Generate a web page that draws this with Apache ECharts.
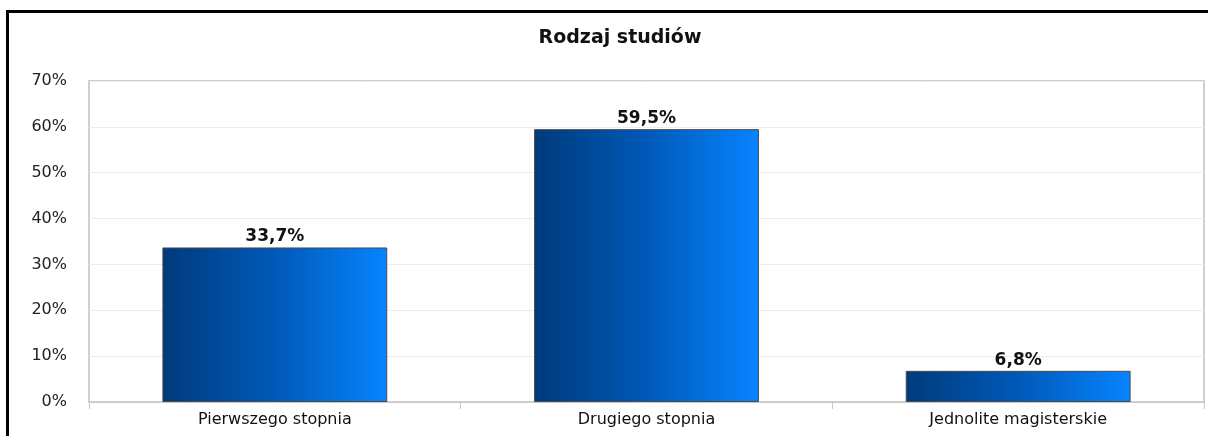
<!DOCTYPE html>
<html>
<head>
<meta charset="utf-8">
<script src="https://cdn.jsdelivr.net/npm/echarts@6/dist/echarts.min.js"></script>
<style>
    html, body { margin: 0; padding: 0; background: #fff; }
    .frame {
        position: absolute; left: 6px; top: 10px;
        width: 1210px; height: 440px;
        border: 3px solid #000; box-sizing: border-box;
    }
    #chart { position: absolute; left: 0; top: 0; width: 1208px; height: 436px; }
</style>
</head>
<body>
<div class="frame"></div>
<div id="chart"></div>
<script>
    // dane z wykresu
    var categories = ['Pierwszego stopnia', 'Drugiego stopnia', 'Jednolite magisterskie'];
    var values = [33.7, 59.5, 6.8];
    var yTicks = [0, 10, 20, 30, 40, 50, 60, 70];

    var chart = echarts.init(document.getElementById('chart'));
    var font = 'DejaVu Sans, Verdana, sans-serif';

    chart.setOption({
        animation: false,
        title: {
            text: 'Rodzaj studiów',
            left: 615, top: 24, textAlign: 'center',
            textStyle: { fontFamily: font, fontSize: 19, fontWeight: 'bold', color: '#111' }
        },
        grid: {
            left: 89, top: 81, right: 4, bottom: 34,
            show: true, borderColor: '#cfcfcf', borderWidth: 2,
            backgroundColor: '#fff'
        },
        xAxis: {
            type: 'category',
            data: categories,
            axisLine: { lineStyle: { color: '#c8c8c8', width: 1 } },
            axisTick: { show: true, length: 7, lineStyle: { color: '#c8c8c8' } },
            axisLabel: { fontFamily: font, fontSize: 16, color: '#111', margin: 10 }
        },
        yAxis: {
            type: 'value',
            min: yTicks[0], max: yTicks[yTicks.length - 1], interval: 10,
            axisLine: { show: false },
            axisTick: { show: false },
            splitLine: { lineStyle: { color: '#ececec' } },
            axisLabel: {
                fontFamily: font, fontSize: 16, color: '#222', margin: 22,
                formatter: function (v) { return v + '%'; }
            }
        },
        series: [{
            type: 'bar',
            data: values,
            barWidth: '60.5%',
            itemStyle: {
                borderColor: '#4a4a4a', borderWidth: 1,
                color: new echarts.graphic.LinearGradient(0, 0, 1, 0, [
                    { offset: 0, color: '#003b7c' },
                    { offset: 0.5, color: '#0059b8' },
                    { offset: 1, color: '#0784ff' }
                ])
            },
            label: {
                show: true, position: 'top', distance: 2,
                fontFamily: font, fontSize: 17, fontWeight: 'bold', color: '#111',
                formatter: function (p) { return p.value.toFixed(1).replace('.', ',') + '%'; }
            }
        }]
    });
</script>
</body>
</html>
